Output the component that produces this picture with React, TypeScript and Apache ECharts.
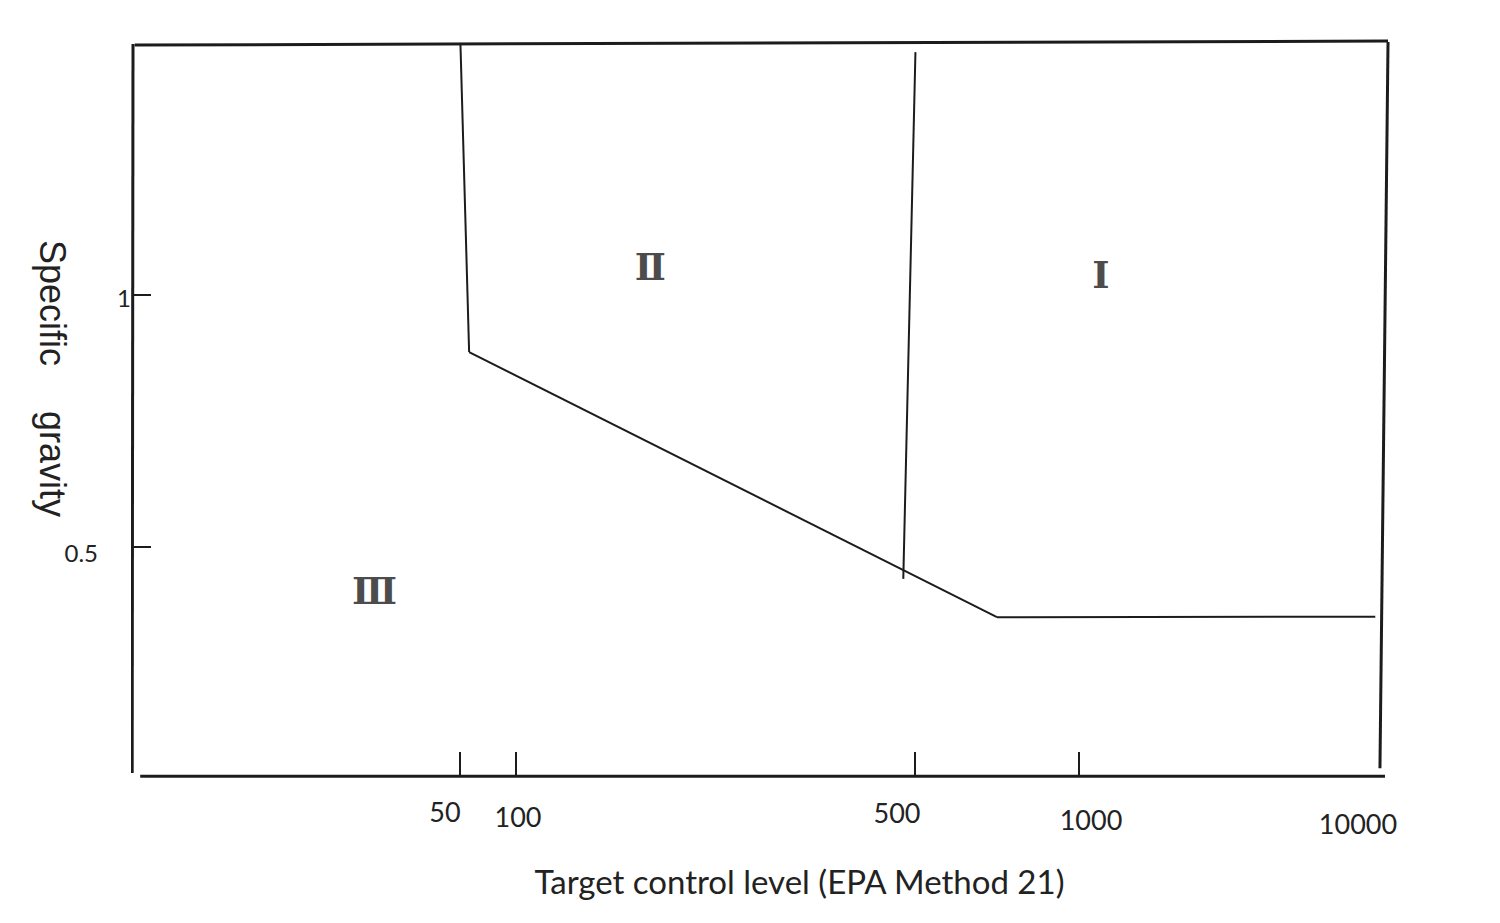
import React, { useEffect, useRef } from "react";
import * as echarts from "echarts";

// ---- data ----
const xTickValues = [50, 100, 500, 1000, 10000];
const xTickLabels = ["50", "100", "500", "1000", "10000"];
const xTickMarks = [50, 100, 500, 1000];
const yTickValues = [0.5, 1];
const yTickLabels = ["0.5", "1"];

// the hand-drawn x scale is not uniform: control level -> fraction of axis length
const xScaleValues = [1, 50, 100, 500, 1000, 10000];
const xScaleFractions = [0, 0.2597, 0.3042, 0.6211, 0.7514, 0.9889];

// boundaries: [target control level, specific gravity]
const boundaryLeft = [[50.3, 1.498], [56, 0.887]];
const boundaryDiagonal = [[56, 0.887], [707, 0.361]];
const boundaryFloor = [[707, 0.361], [9790, 0.362]];
const boundaryMiddle = [[501, 1.482], [477, 0.437]];

// hand-drawn frame
const frameTop = [[1.02, 1.496], [10800, 1.504]];
const frameRight = [[10800, 1.502], [10150, 0.0615]];
const frameLeft = [[1, 1.498], [0.99, 0.052]];
const frameBottom = [[1.09, 0.0456], [10550, 0.0456]];

// region labels
const regionNames = ["Ⅰ", "Ⅱ", "Ⅲ"];
const regionX = [1183, 172, 18];
const regionY = [1.04, 1.056, 0.413];

function toAxis(v: number): number {
  const lv = Math.log10(v);
  const L = xScaleValues.map((d) => Math.log10(d));
  let i = 0;
  while (i < L.length - 2 && lv > L[i + 1]) i++;
  const t = (lv - L[i]) / (L[i + 1] - L[i]);
  return xScaleFractions[i] + t * (xScaleFractions[i + 1] - xScaleFractions[i]);
}

const mapPts = (pts: number[][]) => pts.map(([x, y]) => [toAxis(x), y]);

const LINE = "#1c1c1c";
const TEXT = "#222";
const SANS = "Lato, 'Open Sans', sans-serif";

const xLabelPads = [
  [0, 30, 0, 0],
  [9, 0, 0, 4],
  [2, 36, 0, 0],
  [15, 0, 0, 24],
  [24, 40, 0, 0],
];
const yLabelPads = [
  [10, 33, 0, 0],
  [4, 0, 0, 0],
];

export default function App() {
  const ref = useRef<HTMLDivElement>(null);
  useEffect(() => {
    if (!ref.current) return;
    const chart = echarts.init(ref.current, null, { renderer: "svg" });

    const xRich: Record<string, any> = {};
    xTickLabels.forEach((_, i) => {
      xRich["l" + i] = {
        fontFamily: SANS,
        fontSize: 27,
        lineHeight: 27,
        color: TEXT,
        padding: xLabelPads[i],
      };
    });
    const yRich: Record<string, any> = {};
    yTickLabels.forEach((_, i) => {
      yRich["l" + i] = {
        fontFamily: SANS,
        fontSize: 24,
        lineHeight: 24,
        color: TEXT,
        padding: yLabelPads[i],
      };
    });

    const lineSeries = (name: string, pts: number[][], width: number) => ({
      name,
      type: "line",
      data: mapPts(pts),
      symbol: "none",
      clip: false,
      silent: true,
      lineStyle: { color: LINE, width },
    });

    chart.setOption({
      animation: false,
      backgroundColor: "#fff",
      grid: { left: 133, right: 108, top: 38, bottom: 144 },
      xAxis: {
        type: "value",
        min: 0,
        max: 1,
        offset: -4,
        name: "Target control level (EPA Method 21)",
        nameLocation: "middle",
        nameGap: 89,
        nameMoveOverlap: false,
        nameTextStyle: {
          fontFamily: SANS,
          fontSize: 33,
          color: TEXT,
          padding: [0, 0, 0, 74],
        },
        axisLine: { show: false },
        splitLine: { show: false },
        axisTick: {
          show: true,
          inside: true,
          length: 23,
          customValues: xTickMarks.map(toAxis),
          lineStyle: { color: LINE, width: 2 },
        },
        axisLabel: {
          show: true,
          margin: 23,
          customValues: xTickValues.map(toAxis),
          formatter: (val: number) => {
            let best = 0;
            xTickValues.forEach((t, i) => {
              if (Math.abs(toAxis(t) - val) < Math.abs(toAxis(xTickValues[best]) - val)) best = i;
            });
            return `{l${best}|${xTickLabels[best]}}`;
          },
          rich: xRich,
        },
      },
      yAxis: {
        type: "value",
        min: 0.04,
        max: 1.51,
        name: "{t|Specific}{g|}{t|gravity}{p|}",
        nameLocation: "middle",
        nameRotate: -90,
        nameGap: 63,
        nameMoveOverlap: false,
        nameTextStyle: {
          rich: {
            t: { fontFamily: "'Liberation Sans', Arial, sans-serif", fontSize: 36, color: TEXT },
            g: { width: 45 },
            p: { width: 60 },
          },
        },
        axisLine: { show: false },
        splitLine: { show: false },
        axisTick: {
          show: true,
          inside: true,
          length: 18,
          customValues: yTickValues,
          lineStyle: { color: LINE, width: 2 },
        },
        axisLabel: {
          show: true,
          margin: 2,
          customValues: yTickValues,
          formatter: (val: number) => {
            const i = yTickValues.findIndex((t) => Math.abs(t - val) < 1e-6);
            return i < 0 ? "" : `{l${i}|${yTickLabels[i]}}`;
          },
          rich: yRich,
        },
      },
      series: [
        lineSeries("frameTop", frameTop, 3),
        lineSeries("frameRight", frameRight, 3),
        lineSeries("frameLeft", frameLeft, 3),
        lineSeries("frameBottom", frameBottom, 3),
        lineSeries("boundaryLeft", boundaryLeft, 2),
        lineSeries("boundaryDiagonal", boundaryDiagonal, 2),
        lineSeries("boundaryFloor", boundaryFloor, 2),
        lineSeries("boundaryMiddle", boundaryMiddle, 2),
        {
          name: "regions",
          type: "scatter",
          symbolSize: 1,
          itemStyle: { color: "rgba(0,0,0,0)" },
          silent: true,
          data: regionNames.map((n, i) => ({ value: [toAxis(regionX[i]), regionY[i]], name: n })),
          label: {
            show: true,
            position: "inside",
            formatter: (p: any) => p.name,
            fontFamily: "'DejaVu Serif', 'Noto Sans CJK SC', serif",
            fontSize: 37,
            fontWeight: "bold",
            color: "#1a1a1a",
          },
        },
      ],
    });
    return () => chart.dispose();
  }, []);
  return (
    <div
      ref={ref}
      style={{ position: "absolute", left: 0, top: 0, width: 1500, height: 923 }}
    />
  );
}
